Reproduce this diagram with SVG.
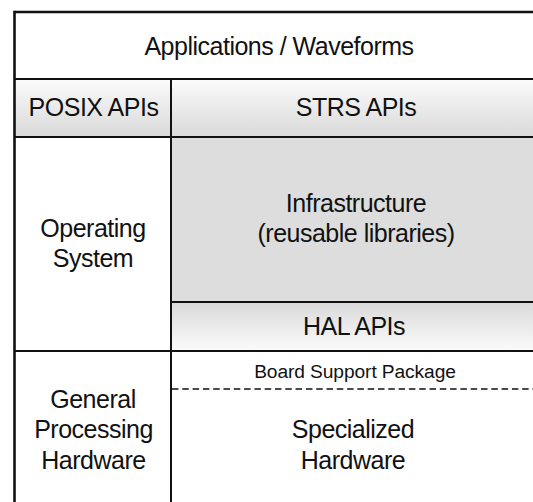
<svg xmlns="http://www.w3.org/2000/svg" width="533" height="502" viewBox="0 0 533 502">
  <defs>
    <linearGradient id="gDown" x1="0" y1="0" x2="0" y2="1">
      <stop offset="0" stop-color="#fbfbfb"/>
      <stop offset="1" stop-color="#d9d9d9"/>
    </linearGradient>
    <linearGradient id="gUp" x1="0" y1="0" x2="0" y2="1">
      <stop offset="0" stop-color="#d9d9d9"/>
      <stop offset="1" stop-color="#fbfbfb"/>
    </linearGradient>
    <style>
      text { font-family: "Liberation Sans", Arial, sans-serif; fill: #111; text-anchor: middle; }
      .big { font-size: 25px; letter-spacing: -0.5px; }
      .small { font-size: 19.2px; letter-spacing: -0.1px; }
      .line { stroke: #111; stroke-width: 2; fill: none; }
      .outer { stroke: #111; stroke-width: 2.6; fill: none; }
      .dash { stroke: #111; stroke-width: 1.5; stroke-dasharray: 6.5 3.8; fill: none; }
    </style>
  </defs>
  <rect x="0" y="0" width="533" height="502" fill="#ffffff"/>

  <g id="applications">
    <rect x="14.5" y="12" width="530" height="67" fill="#ffffff"/>
    <text class="big" x="279" y="54.5">Applications / Waveforms</text>
  </g>
  <g id="posix-apis">
    <rect x="14.5" y="79" width="156.5" height="58" fill="url(#gDown)"/>
    <text class="big" x="93.5" y="116">POSIX APIs</text>
  </g>
  <g id="strs-apis">
    <rect x="171" y="79" width="373" height="58" fill="url(#gDown)"/>
    <text class="big" x="356" y="116">STRS APIs</text>
  </g>
  <g id="operating-system">
    <rect x="14.5" y="137" width="156.5" height="214" fill="#ffffff"/>
    <text class="big" x="93" y="237">Operating</text>
    <text class="big" x="93" y="267">System</text>
  </g>
  <g id="infrastructure">
    <rect x="171" y="137" width="373" height="165" fill="#dddddd"/>
    <text class="big" x="356" y="212">Infrastructure</text>
    <text class="big" x="356" y="242">(reusable libraries)</text>
  </g>
  <g id="hal-apis">
    <rect x="171" y="302" width="373" height="49" fill="url(#gUp)"/>
    <text class="big" x="354" y="335">HAL APIs</text>
  </g>
  <g id="general-processing-hardware">
    <rect x="14.5" y="351" width="156.5" height="151" fill="#ffffff"/>
    <text class="big" x="93" y="407.5">General</text>
    <text class="big" x="93.5" y="438">Processing</text>
    <text class="big" x="93.5" y="468.5">Hardware</text>
  </g>
  <g id="board-support-package">
    <rect x="171" y="351" width="373" height="38" fill="#ffffff"/>
    <text class="small" x="355" y="378">Board Support Package</text>
  </g>
  <g id="specialized-hardware">
    <rect x="171" y="389" width="373" height="113" fill="#ffffff"/>
    <text class="big" x="353" y="438">Specialized</text>
    <text class="big" x="353" y="468.5">Hardware</text>
  </g>

  <g id="connectors">
    <line class="outer" x1="14.5" y1="12" x2="533" y2="12"/>
    <line class="outer" x1="14.5" y1="10.7" x2="14.5" y2="502"/>
    <line class="line" x1="14.5" y1="79" x2="533" y2="79"/>
    <line class="line" x1="171" y1="79" x2="171" y2="502"/>
    <line class="line" x1="14.5" y1="137" x2="533" y2="137"/>
    <line class="line" x1="171" y1="302" x2="533" y2="302"/>
    <line class="line" x1="14.5" y1="351" x2="533" y2="351"/>
    <line class="dash" x1="172" y1="389" x2="533" y2="389"/>
  </g>
</svg>
